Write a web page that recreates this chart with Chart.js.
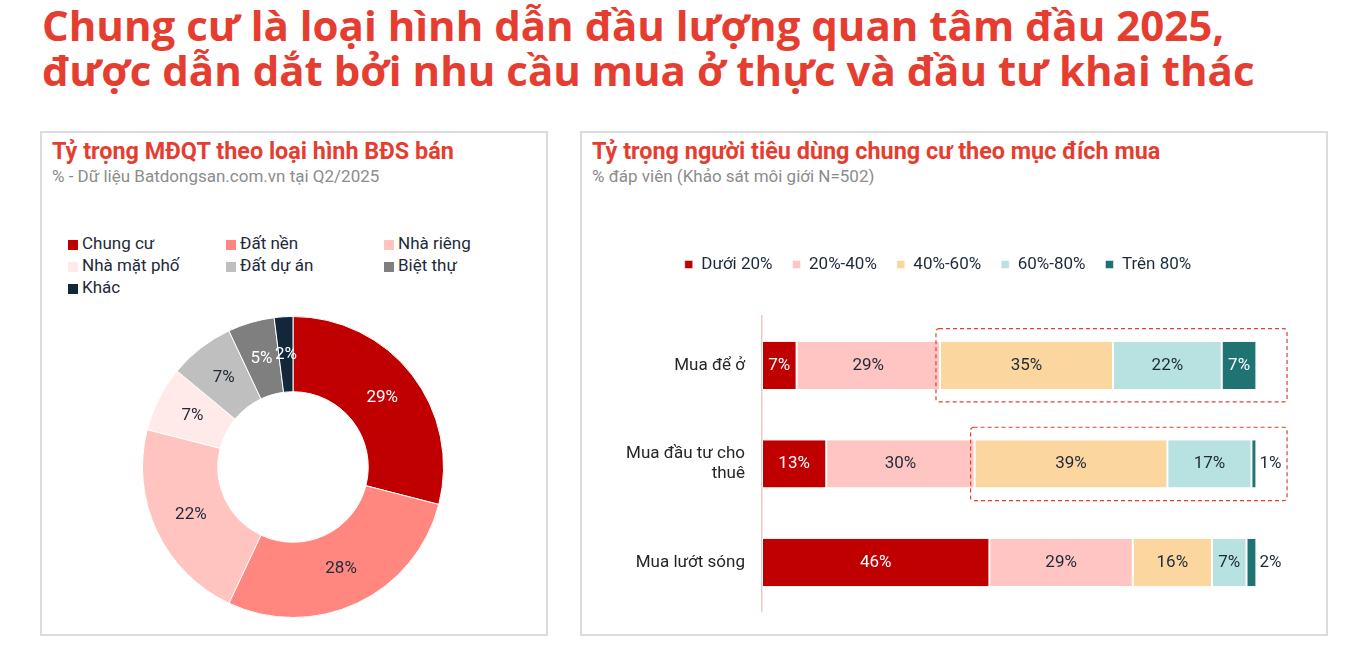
<!DOCTYPE html>
<html lang="vi">
<head>
<meta charset="utf-8">
<script src="https://cdn.jsdelivr.net/npm/chart.js@4.4.1/dist/chart.umd.min.js"></script>
<style>
	body { margin: 0; width: 1350px; height: 650px; background: #fff; font-family: Roboto, sans-serif; position: relative; overflow: hidden; }
	#title { position: absolute; left: 42px; top: 2px; font-family: 'Open Sans', sans-serif; font-weight: 700; font-size: 42px; line-height: 45px; color: #e53e30; white-space: nowrap; }
	.panel { position: absolute; top: 131px; height: 505px; border: 2px solid #dcdcdc; box-sizing: border-box; }
	#panel-left { left: 40px; width: 508px; }
	#panel-right { left: 580px; width: 748px; }
	.panel h2 { margin: 0; position: absolute; left: 10px; top: 5px; font-size: 23.4px; line-height: 27px; font-weight: 700; color: #e53e30; white-space: nowrap; }
	.panel .sub { position: absolute; left: 10px; top: 33px; font-size: 17px; line-height: 20px; color: #8c8c8c; white-space: nowrap; }
	#donut-legend { position: absolute; left: 68px; top: 232px; width: 480px; display: grid; grid-template-columns: 158px 158px 158px; }
	#donut-legend div { height: 22px; line-height: 22px; font-size: 17px; color: #1e2a3a; white-space: nowrap; }
	#donut-legend span { display: inline-block; width: 10px; height: 10px; margin-right: 4px; vertical-align: -1px; }
	#donut { position: absolute; left: 142px; top: 316px; }
	#bars { position: absolute; left: 585px; top: 236px; }
</style>
</head>
<body>
<div id="title">Chung cư là loại hình dẫn đầu lượng quan tâm đầu 2025,<br>được dẫn dắt bởi nhu cầu mua ở thực và đầu tư khai thác</div>

<div class="panel" id="panel-left">
	<h2>Tỷ trọng MĐQT theo loại hình BĐS bán</h2>
	<div class="sub">% - Dữ liệu Batdongsan.com.vn tại Q2/2025</div>
</div>
<div class="panel" id="panel-right">
	<h2>Tỷ trọng người tiêu dùng chung cư theo mục đích mua</h2>
	<div class="sub">% đáp viên (Khảo sát môi giới N=502)</div>
</div>

<div id="donut-legend"></div>
<canvas id="donut" width="302" height="302"></canvas>
<canvas id="bars" width="720" height="403"></canvas>

<script>
// left chart: share of interest by property type
const propertyTypes = ['Chung cư', 'Đất nền', 'Nhà riêng', 'Nhà mặt phố', 'Đất dự án', 'Biệt thự', 'Khác'];
const propertyShares = [29, 28, 22, 7, 7, 5, 2];
const propertyColors = ['#c00000', '#ff8780', '#ffc4c0', '#ffe9e9', '#bfbfbf', '#7f7f7f', '#13273a'];
const propertyLabelColors = ['#fff', '#1e2a3a', '#1e2a3a', '#1e2a3a', '#1e2a3a', '#fff', '#fff'];

// right chart: purpose of purchase
const purposes = ['Mua để ở', ['Mua đầu tư cho', 'thuê'], 'Mua lướt sóng'];
const bandNames = ['Dưới 20%', '20%-40%', '40%-60%', '60%-80%', 'Trên 80%'];
const bandBelow20 = [7, 13, 46];
const band20to40 = [29, 30, 29];
const band40to60 = [35, 39, 16];
const band60to80 = [22, 17, 7];
const bandAbove80 = [7, 1, 2];
const bandColors = ['#c00000', '#ffc5c2', '#fbd69e', '#b8e2e2', '#1f7373'];
const bandLabelColors = ['#fff', '#1e2a3a', '#1e2a3a', '#1e2a3a', '#fff'];
const highlightedRows = [0, 1];

const darkText = '#1e2a3a';
Chart.defaults.font.family = 'Roboto, sans-serif';

// html legend in three fixed columns
const legendBox = document.getElementById('donut-legend');
propertyTypes.forEach((name, i) => {
	const item = document.createElement('div');
	item.innerHTML = `<span style="background:${propertyColors[i]}"></span>${name}`;
	legendBox.appendChild(item);
});

const donutLabels = {
	id: 'donutLabels',
	afterDatasetsDraw(chart) {
		const ctx = chart.ctx;
		ctx.save();
		ctx.font = '17px Roboto, sans-serif';
		ctx.textAlign = 'center';
		ctx.textBaseline = 'middle';
		chart.getDatasetMeta(0).data.forEach((arc, i) => {
			const p = arc.tooltipPosition();
			ctx.fillStyle = propertyLabelColors[i];
			ctx.fillText(propertyShares[i] + '%', p.x, p.y);
		});
		ctx.restore();
	}
};

new Chart(document.getElementById('donut'), {
	type: 'doughnut',
	data: {
		labels: propertyTypes,
		datasets: [{
			data: propertyShares,
			backgroundColor: propertyColors,
			borderColor: '#fff',
			borderWidth: 1
		}]
	},
	options: {
		responsive: false,
		animation: false,
		cutout: '50%',
		plugins: { legend: { display: false }, tooltip: { enabled: false } }
	},
	plugins: [donutLabels]
});

const barLabels = {
	id: 'barLabels',
	afterDatasetsDraw(chart) {
		const ctx = chart.ctx;
		ctx.save();
		ctx.font = '17px Roboto, sans-serif';
		ctx.textBaseline = 'middle';
		chart.data.datasets.forEach((ds, i) => {
			chart.getDatasetMeta(i).data.forEach((bar, j) => {
				const v = ds.data[j];
				if (v < 5) {
					ctx.textAlign = 'left';
					ctx.fillStyle = darkText;
					ctx.fillText(v + '%', bar.x + 3, bar.y);
				} else {
					ctx.textAlign = 'center';
					ctx.fillStyle = bandLabelColors[i];
					ctx.fillText(v + '%', (bar.x + bar.base) / 2, bar.y);
				}
			});
		});
		ctx.restore();
	}
};

// dashed frame around the 40%+ segments
const highlightBoxes = {
	id: 'highlightBoxes',
	afterDraw(chart) {
		const ctx = chart.ctx;
		const x = chart.scales.x;
		ctx.save();
		ctx.strokeStyle = '#e53e30';
		ctx.lineWidth = 1.2;
		ctx.setLineDash([4, 3]);
		highlightedRows.forEach(row => {
			const start = bandBelow20[row] + band20to40[row];
			const bar = chart.getDatasetMeta(2).data[row];
			const left = x.getPixelForValue(start) - 4;
			const right = x.getPixelForValue(106.2);
			const half = bar.height / 2 + 13;
			ctx.beginPath();
			ctx.roundRect(left, bar.y - half, right - left, half * 2, 3);
			ctx.stroke();
		});
		ctx.restore();
	}
};

const legendHeight = {
	id: 'legendHeight',
	beforeInit(chart) {
		const fit = chart.legend.fit;
		chart.legend.fit = function() {
			fit.bind(chart.legend)();
			this.height = 80;
		};
	}
};

const series = [bandBelow20, band20to40, band40to60, band60to80, bandAbove80];

new Chart(document.getElementById('bars'), {
	type: 'bar',
	data: {
		labels: purposes,
		datasets: series.map((values, i) => ({
			label: bandNames[i],
			data: values,
			backgroundColor: bandColors[i],
			borderColor: '#fff',
			borderWidth: { left: 1, right: 1, top: 0, bottom: 0 },
			borderSkipped: false,
			categoryPercentage: 1,
			barPercentage: 0.48
		}))
	},
	options: {
		indexAxis: 'y',
		responsive: false,
		animation: false,
		layout: { padding: { left: 0, right: 14, top: 0, bottom: 0 } },
		plugins: {
			legend: {
				position: 'top',
				labels: {
					boxWidth: 8,
					boxHeight: 8,
					padding: 20,
					color: darkText,
					font: { size: 17 }
				}
			},
			tooltip: { enabled: false }
		},
		scales: {
			x: { stacked: true, min: 0, max: 107, display: false },
			y: {
				stacked: true,
				grid: { display: false, drawTicks: false },
				border: { color: '#f4c7c3', width: 1.5 },
				ticks: { color: '#262626', padding: 17, font: { size: 17 } },
				afterFit: scale => { scale.width = 177; }
			}
		}
	},
	plugins: [barLabels, highlightBoxes, legendHeight]
});
</script>
</body>
</html>
